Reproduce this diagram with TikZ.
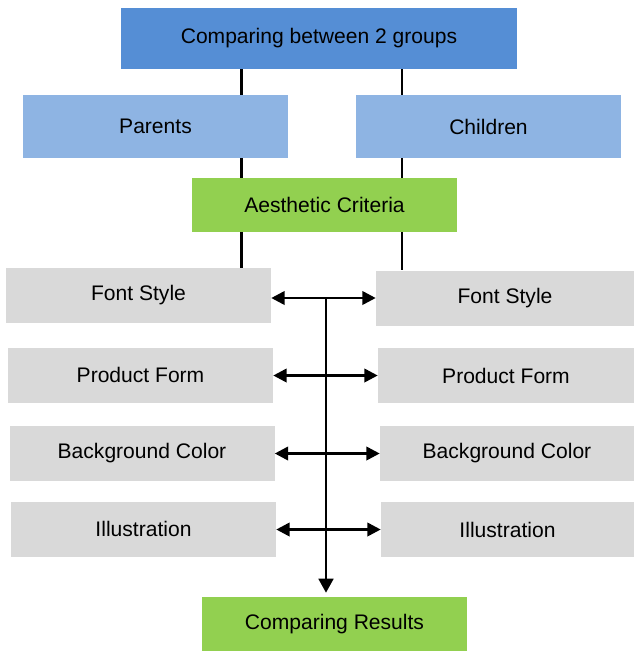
\documentclass[tikz,border=0pt]{standalone}
\usepackage{fontspec}
\setmainfont{Liberation Sans}
\usepackage{tikz}
\usetikzlibrary{arrows.meta}
\definecolor{topblue}{HTML}{558ED5}
\definecolor{groupblue}{HTML}{8EB4E3}
\definecolor{critgreen}{HTML}{92D050}
\definecolor{itemgray}{HTML}{D9D9D9}

\begin{document}
\begin{tikzpicture}[x=0.75pt,y=-0.75pt,
    box/.style={inner sep=0pt,align=center,font=\fontsize{15.8}{19}\selectfont},
    link/.style={line width=1.7pt},
    pair/.style={line width=2pt,{Triangle[length=10pt,width=10pt]}-{Triangle[length=10pt,width=10pt]}},
    down/.style={line width=2pt,-{Triangle[length=10.5pt,width=11pt]},shorten >=3pt}]
    \useasboundingbox (0,0) rectangle (635,651);
    \node[box,fill=topblue,minimum width=297pt,minimum height=45.75pt] (top) at (319,38.5) {Comparing between 2 groups};
    \node[box,fill=groupblue,minimum width=198.75pt,minimum height=47.25pt] (par) at (155.5,126.5) {Parents};
    \node[box,fill=groupblue,minimum width=198.75pt,minimum height=47.25pt] (chi) at (488.5,126.5) {Children};
    \node[box,fill=critgreen,minimum width=198.75pt,minimum height=40.5pt] (aes) at (324.5,205) {Aesthetic Criteria};
    \node[box,fill=critgreen,minimum width=198.75pt,minimum height=40.5pt] (res) at (334.5,624) {Comparing Results};
    \foreach \n/\t/\lx/\ly/\rx/\ry/\rw in{
    1/{Font Style}/138.5/295.5/505/298/193.5pt,
    2/{Product Form}/140.5/375/506/375.5/192pt,
    3/{Background Color}/142/453/507/453.5/190.5pt,
    4/{Illustration}/143.5/529/507.5/529.5/189.75pt
    }
    {
            \node[box,fill=itemgray,minimum width=198.75pt,minimum height=41.25pt] (l\n) at (\lx,\ly) {\t};
            \node[box,fill=itemgray,minimum width=\rw,minimum height=41.25pt] (r\n) at (\rx,\ry) {\t};
            \draw[pair] (l\n.east |- r\n) -- (r\n.west);
        }
    \coordinate (lx) at (241.5,0);
    \coordinate (rx) at (402,0);
    \coordinate (mid) at (326,298);
    \draw[link] (top.south -| lx) -- (par.north -| lx);
    \draw[link] (par.south -| lx) -- (aes.north -| lx);
    \draw[link] (aes.south -| lx) -- (l1.north -| lx);
    \draw[link] (top.south -| rx) -- (chi.north -| rx);
    \draw[link] (chi.south -| rx) -- (aes.north -| rx);
    \draw[link] (aes.south -| rx) -- (r1.north -| rx);
    \draw[down] (mid) -- (mid |- res.north);
\end{tikzpicture}
\end{document}
